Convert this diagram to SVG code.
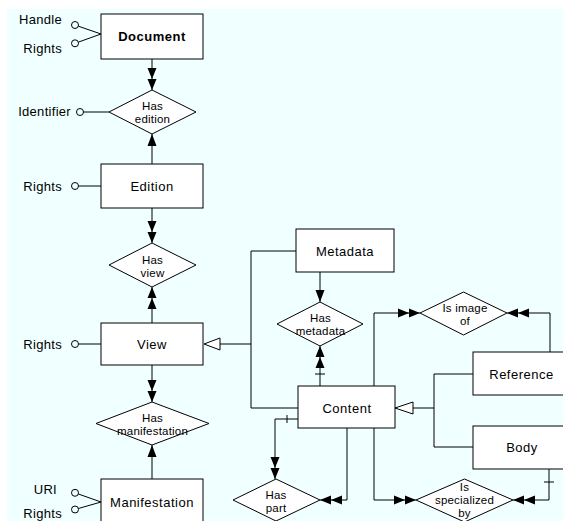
<svg xmlns="http://www.w3.org/2000/svg" width="563" height="521" viewBox="0 0 563 521">
  <style>
    .box { fill: #ffffff; stroke: #000000; stroke-width: 1; }
    .rel { fill: #ffffff; stroke: #000000; stroke-width: 1; }
    .ln { fill: none; stroke: #000000; stroke-width: 1; }
    .att { fill: none; stroke: #000000; stroke-width: 1; }
    .lbl { font-family: "Liberation Sans", Arial, sans-serif; font-size: 13px; letter-spacing: 0.5px; text-anchor: middle; fill: #000000; }
    .bold { font-weight: bold; }
    .rtx { font-family: "Liberation Sans", Arial, sans-serif; font-size: 11.5px; letter-spacing: 0.2px; text-anchor: middle; fill: #000000; }
    .atx { font-family: "Liberation Sans", Arial, sans-serif; font-size: 13px; letter-spacing: 0.3px; text-anchor: end; fill: #000000; }
  </style>
  <defs>
    <marker id="dbl" markerUnits="userSpaceOnUse" markerWidth="22" markerHeight="10" refX="22" refY="5" orient="auto">
      <path d="M0,0.5 L11,5 L0,9.5 Z M11,0.5 L22,5 L11,9.5 Z" fill="#000000"/>
    </marker>
    <marker id="one" markerUnits="userSpaceOnUse" markerWidth="12" markerHeight="10" refX="12" refY="5" orient="auto">
      <path d="M0,0.5 L12,5 L0,9.5 Z" fill="#000000"/>
    </marker>
  </defs>

  <!-- canvas -->
  <rect x="7" y="9" width="556" height="512" fill="#f0ffff"/>

  <!-- connectors -->
  <g id="connectors">
    <path class="ln" d="M152,59 V90" marker-end="url(#dbl)"/>
    <path class="ln" d="M152,164 V134" marker-end="url(#one)"/>
    <path class="ln" d="M152,208 V243" marker-end="url(#dbl)"/>
    <path class="ln" d="M152,323 V287" marker-end="url(#dbl)"/>
    <path class="ln" d="M152,365 V402" marker-end="url(#dbl)"/>
    <path class="ln" d="M152,479 V445" marker-end="url(#one)"/>
    <path class="ln" d="M320,272 V302" marker-end="url(#one)"/>
    <path class="ln" d="M320,386 V346" marker-end="url(#dbl)"/>
    <path class="ln" d="M315,374 H325"/>
    <path class="ln" d="M374,386 V313 H420" marker-end="url(#dbl)"/>
    <path class="ln" d="M550,352 V313 H507" marker-end="url(#dbl)"/>
    <path class="ln" d="M549,469 V500 H513" marker-end="url(#dbl)"/>
    <path class="ln" d="M544,482 H554"/>
    <path class="ln" d="M374,428 V500 H416" marker-end="url(#dbl)"/>
    <path class="ln" d="M347,428 V500 H320" marker-end="url(#dbl)"/>
    <path class="ln" d="M298,419 H275 V479" marker-end="url(#dbl)"/>
    <path class="ln" d="M287,415 V423"/>
    <!-- generalization: Metadata / Content to View -->
    <path class="ln" d="M220,344 H251"/>
    <path class="ln" d="M296,251 H251 V408 H298"/>
    <polygon class="rel" points="204,344 220,338 220,350"/>
    <!-- generalization: Reference / Body to Content -->
    <path class="ln" d="M413,408 H434"/>
    <path class="ln" d="M473,374 H434 V447 H473"/>
    <polygon class="rel" points="395,408 413,402 413,414"/>
    <!-- attribute stubs -->
    <path class="att" d="M78.4,26.2 L101,34 M78.4,42.1 L101,34"/>
    <path class="att" d="M83.5,112 H109"/>
    <path class="att" d="M78.5,186 H101"/>
    <path class="att" d="M78.5,344 H101"/>
    <path class="att" d="M78.4,494 L101,502 M78.4,508.5 L101,502"/>
  </g>

  <!-- attributes -->
  <g id="attr-document">
    <circle class="att" cx="75" cy="25" r="3.5"/>
    <circle class="att" cx="75" cy="43.3" r="3.5"/>
    <text class="atx" x="62" y="24">Handle</text>
    <text class="atx" x="62" y="53">Rights</text>
  </g>
  <g id="attr-identifier">
    <circle class="att" cx="80" cy="112" r="3.5"/>
    <text class="atx" x="71" y="116">Identifier</text>
  </g>
  <g id="attr-edition">
    <circle class="att" cx="75" cy="186" r="3.5"/>
    <text class="atx" x="62" y="190.5">Rights</text>
  </g>
  <g id="attr-view">
    <circle class="att" cx="75" cy="344" r="3.5"/>
    <text class="atx" x="62" y="348.5">Rights</text>
  </g>
  <g id="attr-manifestation">
    <circle class="att" cx="75" cy="492.8" r="3.5"/>
    <circle class="att" cx="75" cy="509.5" r="3.5"/>
    <text class="atx" x="57" y="494">URI</text>
    <text class="atx" x="62" y="517.5">Rights</text>
  </g>

  <!-- entities -->
  <g id="document">
    <rect class="box" x="101" y="14" width="102" height="45"/>
    <text class="lbl bold" x="152" y="40.7">Document</text>
  </g>
  <g id="edition">
    <rect class="box" x="101" y="164" width="102" height="44"/>
    <text class="lbl" x="152" y="190.7">Edition</text>
  </g>
  <g id="view">
    <rect class="box" x="101" y="323" width="102" height="42"/>
    <text class="lbl" x="152" y="348.5">View</text>
  </g>
  <g id="manifestation">
    <rect class="box" x="101" y="479" width="102" height="60"/>
    <text class="lbl" x="152" y="507">Manifestation</text>
  </g>
  <g id="metadata">
    <rect class="box" x="296" y="229" width="98" height="43"/>
    <text class="lbl" x="345" y="256">Metadata</text>
  </g>
  <g id="content">
    <rect class="box" x="298" y="386" width="97" height="42"/>
    <text class="lbl" x="347" y="412.5">Content</text>
  </g>
  <g id="reference">
    <rect class="box" x="473" y="352" width="110" height="43"/>
    <text class="lbl" x="521.5" y="379">Reference</text>
  </g>
  <g id="body">
    <rect class="box" x="473" y="426" width="110" height="43"/>
    <text class="lbl" x="522" y="452">Body</text>
  </g>

  <!-- relationships -->
  <g id="has-edition">
    <polygon class="rel" points="152,90 196,112 152,134 109,112"/>
    <text class="rtx" x="152.5" y="110">Has</text>
    <text class="rtx" x="152.5" y="123">edition</text>
  </g>
  <g id="has-view">
    <polygon class="rel" points="152,243 196,265 152,287 109,265"/>
    <text class="rtx" x="152.5" y="264">Has</text>
    <text class="rtx" x="152.5" y="277">view</text>
  </g>
  <g id="has-manifestation">
    <polygon class="rel" points="152,402 209,423.5 152,445 96,423.5"/>
    <text class="rtx" x="152.5" y="422">Has</text>
    <text class="rtx" x="152.5" y="434.5">manifestation</text>
  </g>
  <g id="has-metadata">
    <polygon class="rel" points="320,302 363,324 320,346 277,324"/>
    <text class="rtx" x="320.5" y="322">Has</text>
    <text class="rtx" x="320.5" y="335">metadata</text>
  </g>
  <g id="is-image-of">
    <polygon class="rel" points="463.5,292 507,313 463.5,335 420,313"/>
    <text class="rtx" x="465" y="312">Is image</text>
    <text class="rtx" x="465" y="325">of</text>
  </g>
  <g id="is-specialized-by">
    <polygon class="rel" points="464.5,479 513,500 464.5,522 416,500"/>
    <text class="rtx" x="464.5" y="491">Is</text>
    <text class="rtx" x="464.5" y="504">specialized</text>
    <text class="rtx" x="464.5" y="516.5">by</text>
  </g>
  <g id="has-part">
    <polygon class="rel" points="276,479 320,500 276,521 233,500"/>
    <text class="rtx" x="276" y="499">Has</text>
    <text class="rtx" x="276" y="512">part</text>
  </g>
</svg>
